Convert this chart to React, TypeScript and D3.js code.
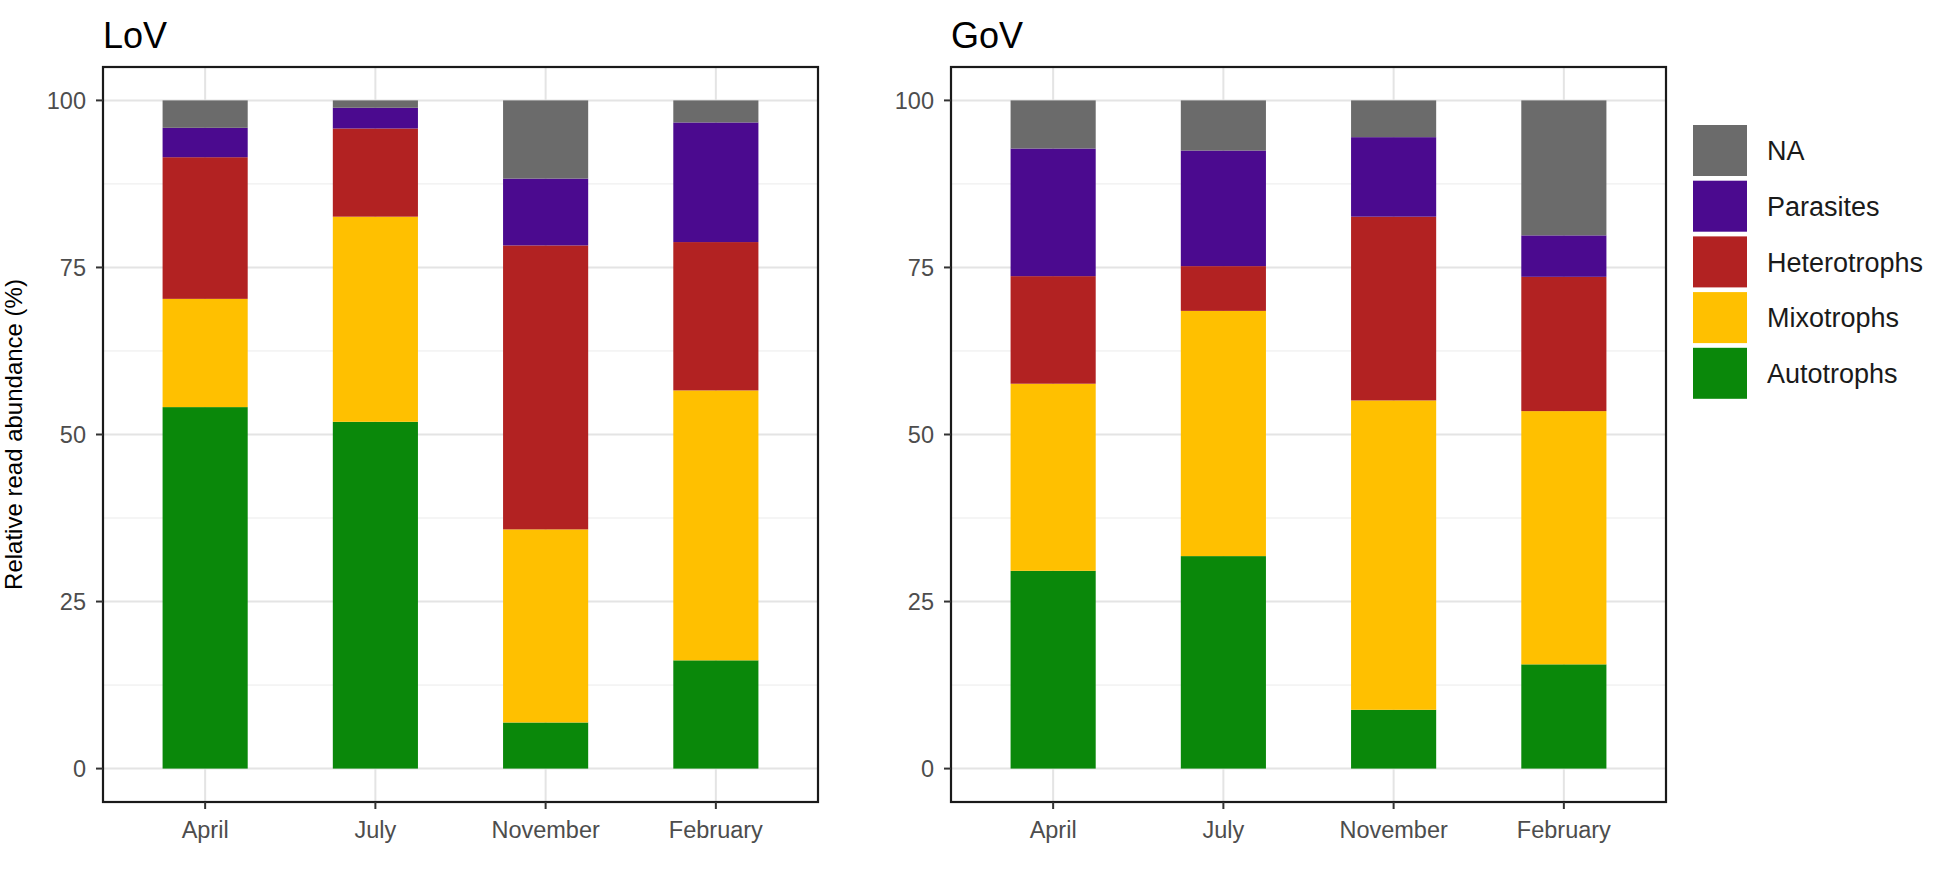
import React from "react";
import * as d3 from "d3";

const months = ["April", "July", "November", "February"];
const groups = ["Autotrophs", "Mixotrophs", "Heterotrophs", "Parasites", "NA"];
const legendOrder = ["NA", "Parasites", "Heterotrophs", "Mixotrophs", "Autotrophs"];
const colors = ["#0a880a", "#ffc000", "#b22222", "#4b0a8f", "#6b6b6b"];

// values per month, in order of groups (bottom to top)
const lovAutotrophs = [54.1, 51.9, 6.9, 16.2];
const lovMixotrophs = [16.2, 30.7, 28.9, 40.4];
const lovHeterotrophs = [21.2, 13.2, 42.5, 22.2];
const lovParasites = [4.4, 3.1, 10.0, 17.9];
const lovNA = [4.1, 1.1, 11.7, 3.3];

const govAutotrophs = [29.6, 31.8, 8.8, 15.6];
const govMixotrophs = [28.0, 36.7, 46.3, 37.9];
const govHeterotrophs = [16.1, 6.7, 27.5, 20.1];
const govParasites = [19.1, 17.3, 11.9, 6.2];
const govNA = [7.2, 7.5, 5.5, 20.2];

const yTicks = [0, 25, 50, 75, 100];
const yMinor = [12.5, 37.5, 62.5, 87.5];

const panels = [
  { title: "LoV", series: [lovAutotrophs, lovMixotrophs, lovHeterotrophs, lovParasites, lovNA], left: 103 },
  { title: "GoV", series: [govAutotrophs, govMixotrophs, govHeterotrophs, govParasites, govNA], left: 951 },
];

const PW = 715;
const TOP = 67;
const BOTTOM = 802;
const FONT = "'Liberation Sans', Arial, sans-serif";

function Panel({ p, showYTitle }: { p: any; showYTitle: boolean }) {
  const x = d3.scalePoint<string>().domain(months).range([p.left, p.left + PW]).padding(0.6);
  const y = d3.scaleLinear().domain([-5, 105]).range([BOTTOM, TOP]);
  const bw = x.step() * 0.5;
  const rows = months.map((m, i) => {
    const r: any = { month: m };
    groups.forEach((g, gi) => (r[g] = p.series[gi][i]));
    return r;
  });
  const stack = d3.stack<any>().keys(groups)(rows);
  return (
    <g>
      {yMinor.map((t) => (
        <line key={"mn" + t} x1={p.left} x2={p.left + PW} y1={y(t)} y2={y(t)} stroke="#ebebeb" strokeWidth={1} />
      ))}
      {yTicks.map((t) => (
        <line key={"mj" + t} x1={p.left} x2={p.left + PW} y1={y(t)} y2={y(t)} stroke="#e4e4e4" strokeWidth={2} />
      ))}
      {months.map((m) => (
        <line key={"vx" + m} x1={x(m)} x2={x(m)} y1={TOP} y2={BOTTOM} stroke="#e4e4e4" strokeWidth={2} />
      ))}
      {stack.map((layer, li) =>
        layer.map((d, i) => (
          <rect
            key={li + "-" + i}
            x={(x(months[i]) as number) - bw / 2}
            width={bw}
            y={y(d[1])}
            height={y(d[0]) - y(d[1])}
            fill={colors[li]}
          />
        ))
      )}
      <rect x={p.left} y={TOP} width={PW} height={BOTTOM - TOP} fill="none" stroke="#1a1a1a" strokeWidth={2.2} />
      {yTicks.map((t) => (
        <g key={"yt" + t}>
          <line x1={p.left - 7} x2={p.left} y1={y(t)} y2={y(t)} stroke="#333" strokeWidth={2} />
          <text x={p.left - 17} y={y(t)} dy="0.36em" textAnchor="end" fontSize={23.5} fill="#4d4d4d" fontFamily={FONT}>
            {t}
          </text>
        </g>
      ))}
      {months.map((m) => (
        <g key={"xt" + m}>
          <line x1={x(m)} x2={x(m)} y1={BOTTOM} y2={BOTTOM + 7} stroke="#333" strokeWidth={2} />
          <text x={x(m)} y={838} textAnchor="middle" fontSize={23.5} fill="#4d4d4d" fontFamily={FONT}>
            {m}
          </text>
        </g>
      ))}
      <text x={p.left} y={48} fontSize={36} fill="#000" fontFamily={FONT}>
        {p.title}
      </text>
      {showYTitle && (
        <text
          transform={`translate(22, ${(TOP + BOTTOM) / 2}) rotate(-90)`}
          textAnchor="middle"
          fontSize={24}
          fill="#000"
          fontFamily={FONT}
        >
          Relative read abundance (%)
        </text>
      )}
    </g>
  );
}

export default function App() {
  const keyStep = 55.7;
  return (
    <svg
      width={1950}
      height={869}
      style={{ position: "absolute", left: 0, top: 0, background: "#fff" }}
    >
      <rect width={1950} height={869} fill="#fff" />
      {panels.map((p, i) => (
        <Panel key={p.title} p={p} showYTitle={i === 0} />
      ))}
      <g>
        {legendOrder.map((g, i) => (
          <g key={g}>
            <rect x={1693} y={125 + i * keyStep} width={54} height={51} fill={colors[groups.indexOf(g)]} />
            <text x={1767} y={125 + i * keyStep + 25.5} dy="0.36em" fontSize={27} fill="#1a1a1a" fontFamily={FONT}>
              {g}
            </text>
          </g>
        ))}
      </g>
    </svg>
  );
}
